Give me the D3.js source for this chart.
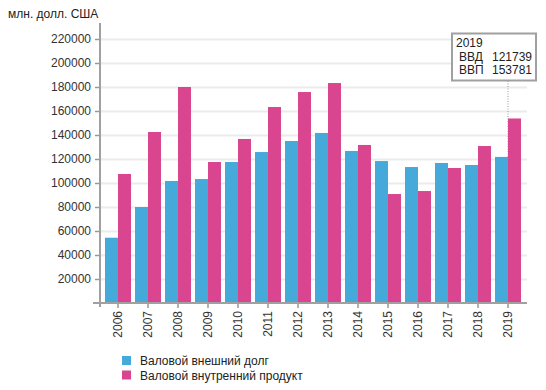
<!DOCTYPE html>
<html>
<head>
<meta charset="utf-8">
<script src="https://cdn.jsdelivr.net/npm/d3@7"></script>
<style>
  body { margin: 0; background: #fff; }
  text { font-family: Arial, "Liberation Sans", sans-serif; }
</style>
</head>
<body>
<svg width="546" height="390"></svg>
<script>
const years = ['2006', '2007', '2008', '2009', '2010', '2011', '2012', '2013', '2014', '2015', '2016', '2017', '2018', '2019']
const debt = [54400, 80000, 101700, 103300, 117500, 125800, 135000, 141700, 126700, 118300, 113300, 116700, 115000, 121739]
const gdp = [107500, 142500, 180000, 117500, 136700, 163300, 175800, 183300, 131700, 90800, 93300, 112500, 130800, 153781]
const seriesNames = ['Валовой внешний долг', 'Валовой внутренний продукт']
const seriesShort = ['ВВД', 'ВВП']
const colors = ['#45a9d9', '#d9468f']
const yTicks = [20000, 40000, 60000, 80000, 100000, 120000, 140000, 160000, 180000, 200000, 220000]

const svg = d3.select('svg')

const x = d3.scaleBand()
  .domain(years)
  .range([103, 523])

const xs = d3.scaleBand()
  .domain([0, 1])
  .range([2, x.bandwidth() - 2])

const y = d3.scaleLinear()
  .domain([0, 220000])
  .range([303, 39])

// grid
svg.append('g')
  .attr('transform', 'translate(100,0)')
  .call(d3.axisLeft(y).tickValues(yTicks).tickSize(-427).tickFormat(''))
  .call(g => g.select('.domain').remove())
  .selectAll('line')
  .attr('stroke', '#ebebeb')
  .attr('stroke-width', 2)

// tooltip guide line (behind bars)
const last = years[years.length - 1]
svg.append('line')
  .attr('x1', x(last) + x.bandwidth() / 2)
  .attr('x2', x(last) + x.bandwidth() / 2)
  .attr('y1', 81)
  .attr('y2', y(0))
  .attr('stroke', '#999')
  .attr('stroke-dasharray', '1,1.5')

// bars
const groups = svg.append('g')
  .selectAll('g')
  .data(years)
  .join('g')
  .attr('transform', d => `translate(${x(d)},0)`)

groups.selectAll('rect')
  .data((d, i) => [debt[i], gdp[i]])
  .join('rect')
  .attr('x', (d, j) => xs(j))
  .attr('width', xs.bandwidth())
  .attr('y', d => y(d))
  .attr('height', d => y(0) - y(d))
  .attr('fill', (d, j) => colors[j])

// y axis
const yAxis = svg.append('g')
  .attr('transform', 'translate(100,0)')
  .call(d3.axisLeft(y).tickValues(yTicks).tickSize(5).tickPadding(4).tickFormat(d3.format('d')))
yAxis.select('.domain').remove()
yAxis.selectAll('line').attr('stroke', '#999').attr('stroke-width', 1.5)
yAxis.selectAll('text').attr('fill', '#333').style('font-size', '12px')

// x axis
const xAxis = svg.append('g')
  .attr('transform', `translate(0,${y(0)})`)
  .call(d3.axisBottom(x).tickSize(5).tickSizeOuter(0))
xAxis.select('.domain').remove()
xAxis.selectAll('line').attr('stroke', '#999').attr('stroke-width', 1.5)
xAxis.selectAll('text')
  .attr('fill', '#333')
  .style('font-size', '12px')
  .style('text-anchor', 'end')
  .attr('transform', 'rotate(-90)')
  .attr('x', -8)
  .attr('y', 0)
  .attr('dy', '0.35em')

// axis lines
svg.append('line')
  .attr('x1', 100).attr('x2', 100)
  .attr('y1', 23).attr('y2', 307)
  .attr('stroke', '#a0a0a0').attr('stroke-width', 2)
svg.append('line')
  .attr('x1', 93).attr('x2', 527)
  .attr('y1', y(0)).attr('y2', y(0))
  .attr('stroke', '#a0a0a0').attr('stroke-width', 2)

// unit label
svg.append('text')
  .attr('x', 8)
  .attr('y', 18)
  .style('font-size', '12px')
  .attr('fill', '#222')
  .text('млн. долл. США')

// tooltip box
const tip = svg.append('g')
tip.append('rect')
  .attr('x', 452)
  .attr('y', 33.5)
  .attr('width', 84)
  .attr('height', 47)
  .attr('fill', '#fff')
  .attr('stroke', '#a0a0a0')
  .attr('stroke-width', 2)
tip.append('text')
  .attr('x', 456)
  .attr('y', 47)
  .style('font-size', '12px')
  .attr('fill', '#222')
  .text(last)
;[debt, gdp].forEach((s, j) => {
  tip.append('text')
    .attr('x', 459)
    .attr('y', 61 + j * 13)
    .style('font-size', '12px')
    .attr('fill', '#222')
    .text(seriesShort[j])
  tip.append('text')
    .attr('x', 532)
    .attr('y', 61 + j * 13)
    .style('font-size', '12px')
    .style('text-anchor', 'end')
    .attr('fill', '#222')
    .text(s[s.length - 1])
})

// legend
const legend = svg.append('g')
  .selectAll('g')
  .data(seriesNames)
  .join('g')
  .attr('transform', (d, i) => `translate(122,${356 + i * 14.5})`)
legend.append('rect')
  .attr('width', 9)
  .attr('height', 9)
  .attr('fill', (d, i) => colors[i])
legend.append('text')
  .attr('x', 18)
  .attr('y', 9)
  .style('font-size', '12px')
  .attr('fill', '#222')
  .text(d => d)
</script>
</body>
</html>
